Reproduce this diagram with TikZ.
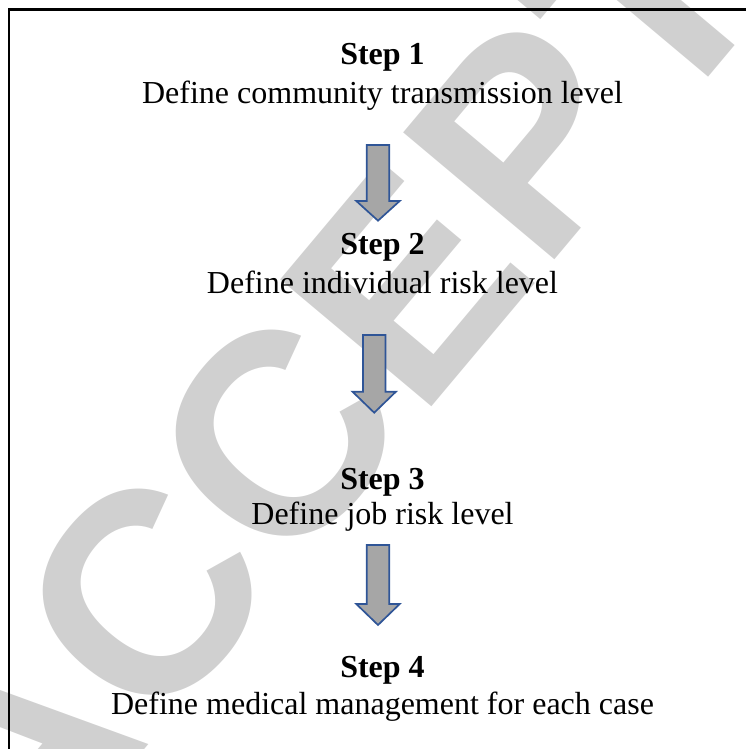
\documentclass[tikz,border=0pt]{standalone}
\usepackage{fontspec}
\setmainfont{Liberation Serif}
\newfontfamily\wmfont{Liberation Sans}
\definecolor{wmgray}{RGB}{208,208,208}
\definecolor{arrowfill}{RGB}{166,166,166}
\definecolor{arrowline}{RGB}{47,85,151}
\tikzset{
  steptitle/.style={anchor=base, inner sep=0pt, font=\fontsize{32}{38}\selectfont\bfseries},
  steptext/.style={anchor=base, inner sep=0pt, font=\fontsize{32}{38}\selectfont},
  blockarrow/.style={fill=arrowfill, draw=arrowline, line width=1.7pt, line join=miter},
  frameline/.style={line width=2.2pt, black},
  watermark/.style={text=wmgray, inner sep=0pt, anchor=base west, font=\wmfont\bfseries\fontsize{287}{300}\selectfont}
}
% block arrow: #1 = centre x, #2 = top y, #3 = head base y, #4 = tip y
\newcommand{\myblockarrow}[4]{%
  \draw[blockarrow] (#1-11.3,#2) -- (#1+11.3,#2) -- (#1+11.3,#3) -- (#1+21.7,#3)
    -- (#1,#4) -- (#1-21.7,#3) -- (#1-11.3,#3) -- cycle;}
\begin{document}
\begin{tikzpicture}[x=1pt,y=1pt]
\useasboundingbox (0,0) rectangle (746,749);
\begin{scope}
\clip (0,0) rectangle (746,749);
\node[watermark, rotate=50] (wm) at (20.1,-148.9) {ACCEPTED MANUSCRIPT};
\end{scope}
% frame
\coordinate (fb) at (9,0);
\coordinate (fc) at (9,739.5);
\coordinate (fr) at (746,739.5);
\draw[frameline] (fb) -- (fc) -- (fr);
% steps
\node[steptitle] (s1) at (382.5,684) {Step 1};
\node[steptext] (d1) at (382.5,645) {Define community transmission level};
\node[steptitle] (s2) at (382.5,494) {Step 2};
\node[steptext] (d2) at (382.5,455) {Define individual risk level};
\node[steptitle] (s3) at (382.5,259) {Step 3};
\node[steptext] (d3) at (382.5,224) {Define job risk level};
\node[steptitle] (s4) at (382.5,71) {Step 4};
\node[steptext] (d4) at (382.5,34) {Define medical management for each case};
% arrows
\myblockarrow{378}{604}{548}{528.3}
\myblockarrow{374.2}{414}{357.3}{336.3}
\myblockarrow{378}{204}{145}{124}
\end{tikzpicture}
\end{document}
